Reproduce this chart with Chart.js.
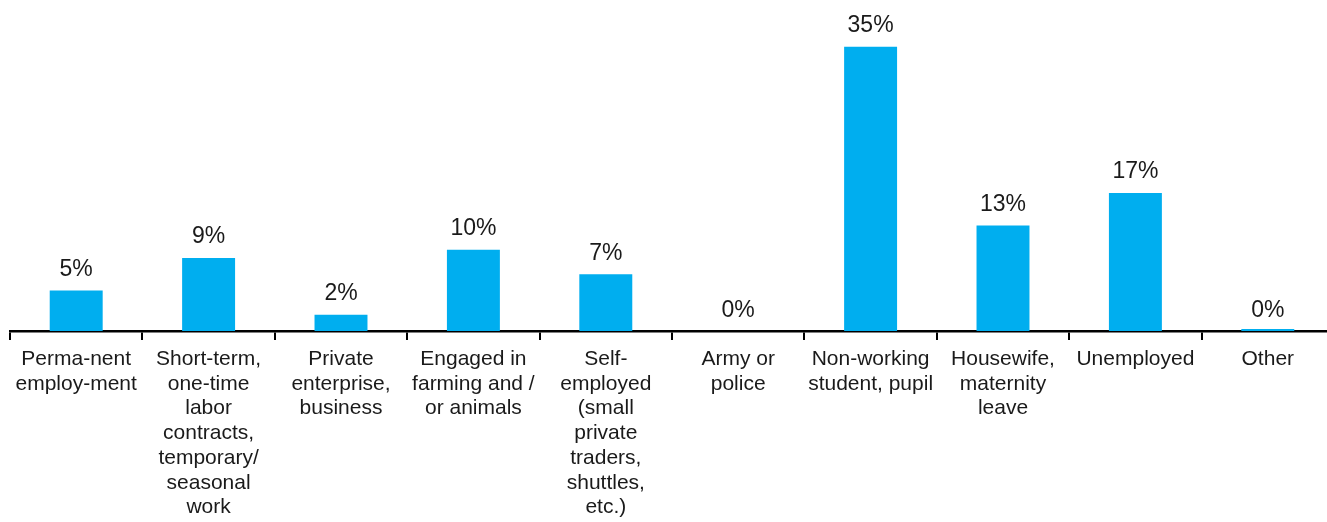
<!DOCTYPE html>
<html>
<head>
<meta charset="utf-8">
<script src="https://cdn.jsdelivr.net/npm/chart.js@4.4.1/dist/chart.umd.min.js"></script>
<style>
  html, body { margin: 0; padding: 0; background: #fff; overflow: hidden; }
  #wrap { width: 1334px; height: 522px; }
</style>
</head>
<body>
<div id="wrap"><canvas id="c" width="1334" height="522"></canvas></div>
<script>
// Employment status categories (multi-line axis labels)
const categories = [
  ["Perma-nent", "employ-ment"],
  ["Short-term,", "one-time", "labor", "contracts,", "temporary/", "seasonal", "work"],
  ["Private", "enterprise,", "business"],
  ["Engaged in", "farming and /", "or animals"],
  ["Self-", "employed", "(small", "private", "traders,", "shuttles,", "etc.)"],
  ["Army or", "police"],
  ["Non-working", "student, pupil"],
  ["Housewife,", "maternity", "leave"],
  ["Unemployed"],
  ["Other"]
];

// Share of respondents, percent
const shares = [5, 9, 2, 10, 7, 0, 35, 13, 17, 0];

// "Other" is a non-empty answer that rounds to 0%, shown as a hairline bar
const hairline = [null, null, null, null, null, null, null, null, null, 0];

const BAR_COLOR = '#00AEEF';

const valueLabels = {
  id: 'valueLabels',
  afterDatasetsDraw(chart) {
    const ctx = chart.ctx;
    const meta = chart.getDatasetMeta(0);
    ctx.save();
    ctx.font = '23px "Liberation Sans", Arial, sans-serif';
    ctx.fillStyle = '#1a1a1a';
    ctx.textAlign = 'center';
    ctx.textBaseline = 'alphabetic';
    meta.data.forEach((bar, i) => {
      ctx.fillText(shares[i] + '%', bar.x, bar.y - 14.5);
    });
    ctx.restore();
  }
};

new Chart(document.getElementById('c'), {
  type: 'bar',
  data: {
    labels: categories,
    datasets: [
      {
        data: shares,
        backgroundColor: BAR_COLOR,
        barPercentage: 0.4,
        categoryPercentage: 1.0,
        borderWidth: 0
      },
      {
        data: hairline,
        backgroundColor: BAR_COLOR,
        barPercentage: 0.4,
        categoryPercentage: 1.0,
        borderWidth: 0,
        minBarLength: 2,
        grouped: false
      }
    ]
  },
  options: {
    responsive: false,
    animation: false,
    devicePixelRatio: 1,
    layout: { padding: { left: 10, right: 0, top: 6, bottom: 0 } },
    plugins: {
      legend: { display: false },
      tooltip: { enabled: false }
    },
    scales: {
      y: {
        display: false,
        min: 0,
        max: 40
      },
      x: {
        afterFit(scale) { scale.height = 191; },
        border: { display: true, color: '#000', width: 2.5 },
        grid: {
          offset: true,
          drawOnChartArea: false,
          drawTicks: true,
          tickLength: 9,
          color: '#000',
          lineWidth: 2
        },
        ticks: {
          autoSkip: false,
          maxRotation: 0,
          minRotation: 0,
          padding: 7,
          color: '#1a1a1a',
          font: { family: '"Liberation Sans", Arial, sans-serif', size: 21, lineHeight: 1.175 }
        }
      }
    }
  },
  plugins: [valueLabels]
});
</script>
</body>
</html>
